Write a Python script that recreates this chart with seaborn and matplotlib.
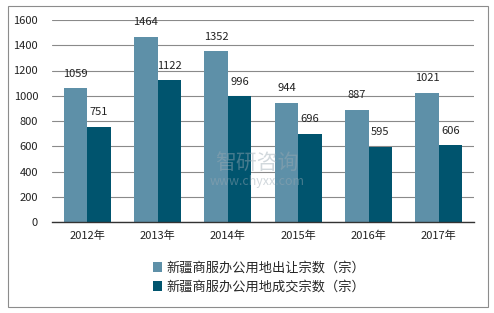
import matplotlib
matplotlib.use("Agg")
import matplotlib.pyplot as plt
import seaborn as sns
import pandas as pd
from matplotlib.patches import Rectangle

years = ["2012年", "2013年", "2014年", "2015年", "2016年", "2017年"]
series_names = ["新疆商服办公用地出让宗数（宗）", "新疆商服办公用地成交宗数（宗）"]
offered = [1059, 1464, 1352, 944, 887, 1021]
traded = [751, 1122, 996, 696, 595, 606]
colors = ["#5e90a8", "#00546e"]

df = pd.DataFrame({
    "year": years * 2,
    "series": [series_names[0]] * len(years) + [series_names[1]] * len(years),
    "value": offered + traded,
})

sns.set_theme(style="white")
plt.rcParams['font.family'] = ['Noto Sans CJK SC', 'DejaVu Sans']

fig = plt.figure(figsize=(4.94, 3.13), dpi=100)
fig.patches.append(Rectangle((8/494, 6/313), 480/494, 301/313, transform=fig.transFigure,
                             fill=False, edgecolor="#8c8c8c", linewidth=0.8))
ax = fig.add_axes([52/494, 1 - 222/313, 422/494, 202/313])

sns.barplot(data=df, x="year", y="value", hue="series", palette=colors,
            width=0.67, gap=0, ax=ax, saturation=1, legend=True,
            linewidth=0, edgecolor="none")

ax.set_ylim(0, 1600)
ax.set_xlim(-0.5, 5.5)
ax.set_yticks(range(0, 1601, 200))
ax.yaxis.grid(True, color="#8a8a8a", linewidth=0.8)
ax.set_axisbelow(True)
for s in ["top", "right", "left"]:
    ax.spines[s].set_visible(False)
ax.spines["bottom"].set_color("#333333")
ax.spines["bottom"].set_linewidth(1.0)
ax.set_xlabel("")
ax.set_ylabel("")
ax.tick_params(axis="both", length=0, labelsize=8, colors="#222222")
ax.tick_params(axis="x", pad=6)
ax.tick_params(axis="y", pad=10)

for cont in ax.containers:
    ax.bar_label(cont, padding=7, fontsize=8, color="#222222")

handles, labels = ax.get_legend_handles_labels()
ax.legend(handles, labels, loc="upper center", bbox_to_anchor=(0.49, -0.17), ncol=1,
          frameon=False, fontsize=9.5, handlelength=0.7, handleheight=0.7,
          handletextpad=0.3, labelspacing=0.45, borderaxespad=0)

fig.text(0.52, 0.48, "智研咨询", fontsize=15, color="#9aa9b3", alpha=0.45,
         ha="center", va="center")
fig.text(0.52, 0.42, "www.chyxx.com", fontsize=9, color="#9aa9b3", alpha=0.45,
         ha="center", va="center")

fig.savefig("out.png", dpi=100)
